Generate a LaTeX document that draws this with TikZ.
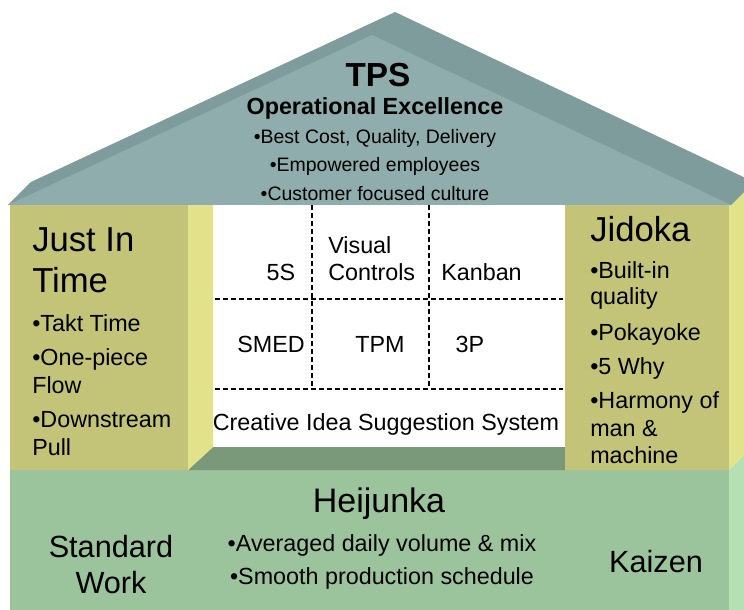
\documentclass[tikz,border=0pt]{standalone}
\usepackage{fontspec}
\setmainfont{Liberation Sans}
\definecolor{roofL}{HTML}{8FADAD}
\definecolor{roofD}{HTML}{7F9C9C}
\definecolor{pilF}{HTML}{C4C478}
\definecolor{pilS}{HTML}{E2E28A}
\definecolor{floorC}{HTML}{7A987A}
\definecolor{baseF}{HTML}{9CC49C}
\definecolor{baseS}{HTML}{B4E0B4}
\begin{document}
\begin{tikzpicture}[x=0.75pt,y=-0.75pt,
  txt/.style={inner sep=0pt,font=\fontsize{17.5}{20}\selectfont},
  roofbul/.style={inner sep=0pt,anchor=base,font=\fontsize{14.6}{17}\selectfont},
  ttl/.style={inner sep=0pt,anchor=base west,font=\fontsize{26}{30}\selectfont},
  lst/.style={txt,anchor=base west},
  grid/.style={line width=0.9pt,dash pattern=on 3.6pt off 2.4pt}]
\useasboundingbox (0,0) rectangle (744,610);
\clip (0,0) rectangle (744,610);
% base
\fill[baseF] (10,470) rectangle (729,610);
\fill[baseS] (729,470) -- (752,447) -- (752,610) -- (729,610) -- cycle;
% floor
\fill[floorC] (188,470) -- (213,447) -- (565,447) -- (565,470) -- cycle;
% centre
\fill[white] (213,205) rectangle (565,447);
% left pillar
\fill[pilF] (10,205) rectangle (188,470);
\fill[pilS] (188,205) -- (213,182) -- (213,447) -- (188,470) -- cycle;
% right pillar
\fill[pilF] (565,205) rectangle (729,470);
\fill[pilS] (729,205) -- (752,182) -- (752,447) -- (729,470) -- cycle;
% roof
\fill[roofD] (8,205) -- (31,182) -- (395,12) -- (754,182) -- (731,205) -- cycle;
\fill[roofL] (8,205) -- (372,35) -- (731,205) -- cycle;
% grid
\coordinate (v1t) at (312,205); \coordinate (v1b) at (312,386);
\coordinate (v2t) at (429,205); \coordinate (v2b) at (429,386);
\coordinate (h1l) at (215,299); \coordinate (h1r) at (563,299);
\coordinate (h2l) at (215,389); \coordinate (h2r) at (563,389);
\draw[grid] (v1t) -- (v1b);
\draw[grid] (v2t) -- (v2b);
\draw[grid] (h1l) -- (h1r);
\draw[grid] (h2l) -- (h2r);
% roof text
\node[inner sep=0pt,anchor=base,font=\bfseries\fontsize{25}{30}\selectfont] (tps) at (378,87) {TPS};
\node[inner sep=0pt,anchor=base,font=\bfseries\fontsize{17.5}{20}\selectfont] (opx) at (375,115) {Operational Excellence};
\node[roofbul] (r1) at (375,144) {•Best Cost, Quality, Delivery};
\node[roofbul] (r2) at (375,172) {•Empowered employees};
\node[roofbul] (r3) at (375,200) {•Customer focused culture};
% left pillar
\node[ttl] (jit1) at (32,252) {Just In};
\node[ttl] (jit2) at (32,292) {Time};
\node[lst] (l1) at (32,331) {•Takt Time};
\node[lst] (l2) at (32,365) {•One-piece};
\node[lst] (l3) at (32,393) {Flow};
\node[lst] (l4) at (32,427) {•Downstream};
\node[lst] (l5) at (32,455) {Pull};
% right pillar
\node[ttl] (jid) at (590,242) {Jidoka};
\node[lst] (j1) at (590,278) {•Built-in};
\node[lst] (j2) at (590,305) {quality};
\node[lst] (j3) at (590,340) {•Pokayoke};
\node[lst] (j4) at (590,374) {•5 Why};
\node[lst] (j5) at (590,408) {•Harmony of};
\node[lst] (j6) at (590,436) {man \&};
\node[lst] (j7) at (590,463) {machine};
% centre
\node[txt,anchor=base] (c5s) at (281,281) {5S};
\node[lst] (cv1) at (328,253) {Visual};
\node[lst] (cv2) at (328,281) {Controls};
\node[lst] (ckb) at (441,281) {Kanban};
\node[txt,anchor=base] (csm) at (271,353) {SMED};
\node[txt,anchor=base] (ctp) at (380,353) {TPM};
\node[txt,anchor=base] (c3p) at (470,353) {3P};
\node[txt,anchor=base] (cci) at (386,430) {Creative Idea Suggestion System};
% base
\node[inner sep=0pt,anchor=base,font=\fontsize{25.5}{30}\selectfont] (hei) at (379,512) {Heijunka};
\node[txt,anchor=base] (b1) at (382,551) {•Averaged daily volume \& mix};
\node[txt,anchor=base] (b2) at (382,584) {•Smooth production schedule};
\node[inner sep=0pt,anchor=base,font=\fontsize{23}{27}\selectfont] (sw1) at (111,557) {Standard};
\node[inner sep=0pt,anchor=base,font=\fontsize{23}{27}\selectfont] (sw2) at (111,593) {Work};
\node[inner sep=0pt,anchor=base,font=\fontsize{23}{27}\selectfont] (kai) at (656,572) {Kaizen};
\end{tikzpicture}
\end{document}
